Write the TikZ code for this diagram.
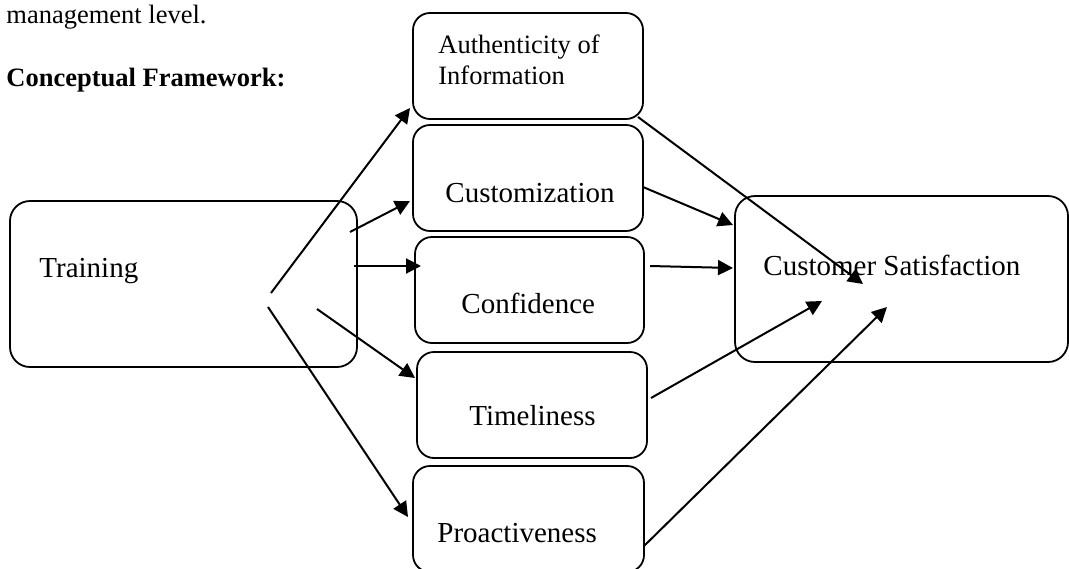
\documentclass[tikz,border=0pt]{standalone}
\usepackage{fontspec}
\setmainfont{Liberation Serif}
\usetikzlibrary{arrows.meta}
\begin{document}
\begin{tikzpicture}[x=0.5pt, y=-0.5pt,
        main/.style = {draw, rounded corners=8.5pt, line width=0.9pt, minimum width=115pt, minimum height=53pt, inner sep=0pt},
        big/.style = {main, minimum width=173.5pt, minimum height=83pt, rounded corners=10pt},
        txt/.style = {anchor=base west, inner sep=0pt, font=\fontsize{14.5}{17}\selectfont},
        small/.style = {anchor=base west, inner sep=0pt, font=\fontsize{13.25}{15.5}\selectfont},
        arr/.style = {-{Triangle[length=7.5pt,width=7.5pt]}, line width=1pt}]
    \clip (0,0) rectangle (1069,568);
    \node[small] (intro) at (6,23) {management level.};
    \node[small, font=\fontsize{13.25}{15.5}\selectfont\bfseries] (head) at (6,86) {Conceptual Framework:};
    % boxes
    \node[big] (train) at (183.5,284) {};
    \node[main] (auth) at (528,66) {};
    \node[main] (cust) at (528,178) {};
    \node[main, minimum width=114.5pt] (conf) at (529.5,290) {};
    \node[main] (time) at (532,405) {};
    \node[main, minimum width=115.5pt] (proa) at (528.5,519) {};
    \node[big, minimum width=166.5pt] (cs) at (901.5,279) {};
    % labels
    \node[txt] (trainlbl) at (39,277) {Training};
    \node[small] (authlbl) at (438,53) {Authenticity of};
    \node[small] (authlbl2) at (438,84) {Information};
    \node[txt] (custlbl) at (445,202) {Customization};
    \node[txt] (conflbl) at (461,313) {Confidence};
    \node[txt] (timelbl) at (469,425) {Timeliness};
    \node[txt] (proalbl) at (437,542) {Proactiveness};
    \node[txt] (cslbl) at (763,275) {Customer Satisfaction};
    % arrow ends
    \coordinate (t1) at (271,293);
    \coordinate (t2) at (350,232);
    \coordinate (t3) at (354,266);
    \coordinate (t4) at (317,309);
    \coordinate (t5) at (268,307);
    \coordinate (a1) at (410,108);
    \coordinate (a2) at (410,201);
    \coordinate (a3) at (421,266);
    \coordinate (a4) at (415,378);
    \coordinate (a5) at (408,517);
    \coordinate (s1) at (638,117);
    \coordinate (s2) at (643,187);
    \coordinate (s3) at (650,266);
    \coordinate (s4) at (651,398);
    \coordinate (s5) at (644,546);
    \coordinate (c1) at (863,284);
    \coordinate (c2) at (733,225);
    \coordinate (c3) at (733,268);
    \coordinate (c4) at (822,301);
    \coordinate (c5) at (887,307);
    \draw[arr] (t1) -- (a1);
    \draw[arr] (t2) -- (a2);
    \draw[arr] (t3) -- (a3);
    \draw[arr] (t4) -- (a4);
    \draw[arr] (t5) -- (a5);
    \draw[arr] (s1) -- (c1);
    \draw[arr] (s2) -- (c2);
    \draw[arr] (s3) -- (c3);
    \draw[arr] (s4) -- (c4);
    \draw[arr] (s5) -- (c5);
\end{tikzpicture}
\end{document}
